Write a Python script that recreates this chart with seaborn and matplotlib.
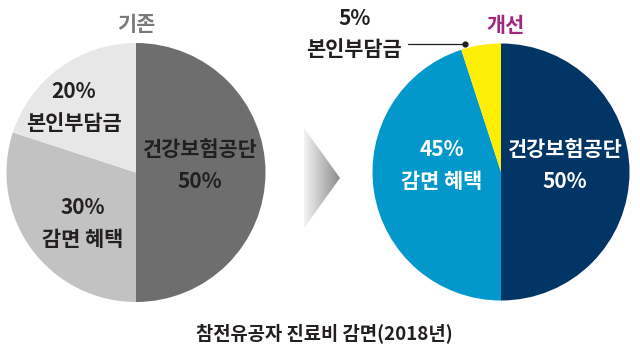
import numpy as np
import seaborn as sns
import matplotlib.pyplot as plt
from matplotlib.patches import Polygon

# --- data ---
categories = ["건강보험공단", "감면 혜택", "본인부담금"]
before_values = [50, 30, 20]
after_values = [50, 45, 5]
before_colors = ["#6e6e6e", "#c2c2c2", "#e7e7e7"]
after_colors = ["#013565", "#0298cc", "#fcee05"]
caption = "참전유공자 진료비 감면(2018년)"

W, H = 640, 357

sns.set_theme(style="white")
plt.rcParams['font.family'] = ['Noto Sans CJK KR', 'DejaVu Sans']

fig = plt.figure(figsize=(W / 100, H / 100), dpi=100)
fig.patch.set_facecolor("white")


def fx(x):
    return x / W


def fy(y):
    return 1 - y / H


def pie_axes(cx, cy, r):
    ax = fig.add_axes([fx(cx - r), fy(cy + r), 2 * r / W, 2 * r / H])
    return ax


# left pie (before)
ax1 = pie_axes(136, 172.5, 129.5)
ax1.pie(before_values, colors=before_colors, startangle=90, counterclock=False,
        radius=1, frame=True, wedgeprops=dict(linewidth=0))
ax1.set_xlim(-1, 1)
ax1.set_ylim(-1, 1)
ax1.axis("off")

# right pie (after)
ax2 = pie_axes(501, 172, 128.5)
ax2.pie(after_values, colors=after_colors, startangle=90, counterclock=False,
        radius=1, frame=True, wedgeprops=dict(linewidth=0))
ax2.set_xlim(-1, 1)
ax2.set_ylim(-1, 1)
ax2.axis("off")

# labels
lab = dict(fontsize=15, fontweight="bold", ha="center", va="center")
dark = "#231f20"
fig.text(fx(136), fy(24.5), "기존", color="#7a7a7a", **lab)
fig.text(fx(74), fy(92), f"{before_values[2]}%", color=dark, **lab)
fig.text(fx(74), fy(123), categories[2], color=dark, **lab)
fig.text(fx(200), fy(149), categories[0], color=dark, **lab)
fig.text(fx(200), fy(182), f"{before_values[0]}%", color=dark, **lab)
fig.text(fx(83), fy(208), f"{before_values[1]}%", color=dark, **lab)
fig.text(fx(83), fy(240), categories[1], color=dark, **lab)

fig.text(fx(506), fy(26), "개선", color="#a3267f", **lab)
fig.text(fx(355), fy(18.5), f"{after_values[2]}%", color=dark, **lab)
fig.text(fx(354), fy(49), categories[2], color=dark, **lab)
fig.text(fx(442), fy(149), f"{after_values[1]}%", color="white", **lab)
fig.text(fx(442), fy(181), categories[1], color="white", **lab)
fig.text(fx(565), fy(149), categories[0], color="white", **lab)
fig.text(fx(565), fy(181), f"{after_values[0]}%", color="white", **lab)

# leader line for the 5% slice
overlay = fig.add_axes([0, 0, 1, 1], zorder=5)
overlay.set_xlim(0, W)
overlay.set_ylim(H, 0)
overlay.axis("off")
overlay.plot([408, 465], [44, 44], color=dark, lw=0.9)
overlay.plot([465], [44], "o", color=dark, ms=3.5)

# gradient arrow between pies
grad = np.linspace(0.95, 0.55, 64).reshape(1, -1)
img = overlay.imshow(grad, cmap="gray", vmin=0, vmax=1, extent=[304, 340, 228, 128],
                     aspect="auto", interpolation="bilinear")
tri = Polygon([[304, 128], [340, 178], [304, 228]], closed=True,
              transform=overlay.transData, facecolor="none", edgecolor="none")
overlay.add_patch(tri)
img.set_clip_path(tri)
overlay.set_xlim(0, W)
overlay.set_ylim(H, 0)

fig.text(fx(324), fy(333), caption, fontsize=13.5, fontweight="semibold",
         ha="center", va="center", color=dark)

fig.savefig("out.png", dpi=100, facecolor="white")
